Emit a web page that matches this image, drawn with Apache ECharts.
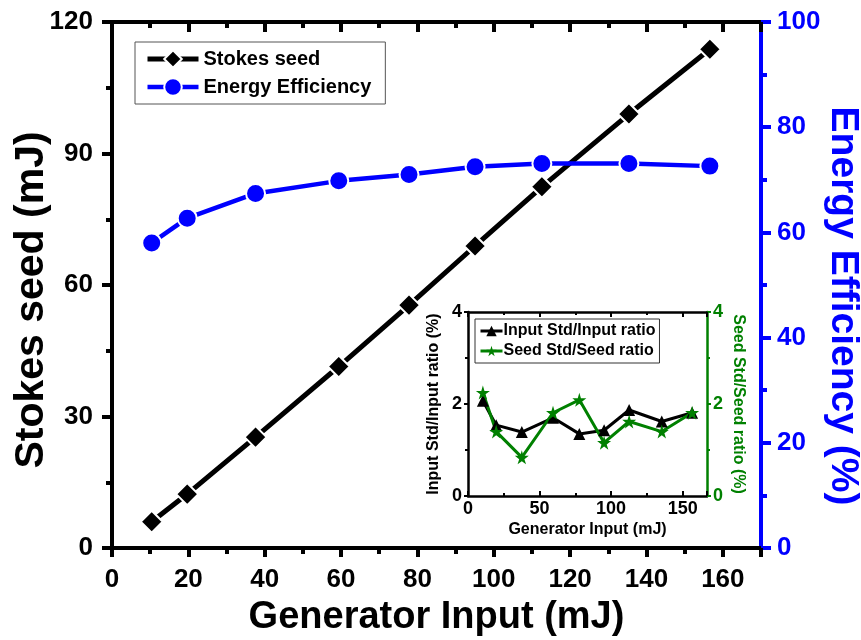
<!DOCTYPE html>
<html>
<head>
<meta charset="utf-8">
<script src="https://cdn.jsdelivr.net/npm/echarts@6/dist/echarts.min.js"></script>
<style>html,body{margin:0;padding:0;background:#fff}#c{width:861px;height:640px}</style>
</head>
<body>
<div id="c"></div>
<script>
// ---- data ----
const generatorInput = [10.4, 19.7, 37.6, 59.4, 77.8, 95.1, 112.6, 135.4, 156.6];
const stokesSeed = [6.0, 12.3, 25.3, 41.4, 55.4, 68.9, 82.4, 99.0, 113.8];
const energyEfficiency = [58.0, 62.7, 67.4, 69.8, 71.0, 72.5, 73.1, 73.1, 72.6];
const inputStdRatio = [2.07, 1.54, 1.39, 1.70, 1.35, 1.43, 1.87, 1.62, 1.81];
const seedStdRatio = [2.25, 1.40, 0.84, 1.81, 2.09, 1.16, 1.62, 1.40, 1.81];
const mainXTicks = [0, 20, 40, 60, 80, 100, 120, 140, 160];
const insetXTicks = [0, 50, 100, 150];

const zip = (xs, ys) => xs.map((x, i) => [x, ys[i]]);
const FONT = '"Liberation Sans", Arial, sans-serif';
const BLUE = '#0000ff';
const GREEN = '#008000';
const STAR = 'path://M50,0 L61,35 L98,35 L68,57 L79,91 L50,70 L21,91 L32,57 L2,35 L39,35 Z';

const chart = echarts.init(document.getElementById('c'), null, {renderer: 'canvas'});
const lbl = (size, color, extra) => Object.assign({fontFamily: FONT, fontWeight: 'bold', fontSize: size, color: color}, extra || {});

chart.setOption({
  animation: false,
  backgroundColor: '#fff',
  grid: [
    {left: 112, right: 100, top: 22, bottom: 92, outerBoundsMode: 'none', containLabel: false},
    {left: 468, top: 312, width: 239, height: 184, outerBoundsMode: 'none', containLabel: false}
  ],
  legend: [
    {
      data: ['Stokes seed', 'Energy Efficiency'],
      orient: 'vertical', left: 135, top: 42,
      itemWidth: 51, itemHeight: 22, itemGap: 4,
      padding: [5, 14, 5, 10],
      borderColor: '#555', borderWidth: 1,
      lineStyle: {width: 'inherit'},
      textStyle: lbl(20, '#000', {lineHeight: 24})
    },
    {
      data: ['Input Std/Input ratio', 'Seed Std/Seed ratio'],
      orient: 'vertical', left: 475, top: 319,
      itemWidth: 22, itemHeight: 13, itemGap: 2,
      padding: [3, 4, 3, 4],
      borderColor: '#333', borderWidth: 1,
      lineStyle: {width: 'inherit'},
      textStyle: lbl(16, '#000', {lineHeight: 18, padding: [0, 0, 0, -4]})
    }
  ],
  xAxis: [
    {
      gridIndex: 0, type: 'value', min: 0, max: 170, interval: 20,
      name: 'Generator Input (mJ)', nameLocation: 'middle', nameGap: 51, nameMoveOverlap: false,
      nameTextStyle: lbl(38, '#000'),
      axisLine: {onZero: false, lineStyle: {color: '#000', width: 4}},
      axisTick: {show: true, length: 9, lineStyle: {color: '#000', width: 4}},
      minorTick: {show: true, splitNumber: 2, length: 6, lineStyle: {color: '#000', width: 4}},
      axisLabel: lbl(26, '#000', {margin: 19, formatter: v => mainXTicks.includes(v) ? String(v) : ''}),
      splitLine: {show: false}
    },
    {
      gridIndex: 0, type: 'value', min: 0, max: 170, interval: 20, position: 'top',
      axisLine: {onZero: false, lineStyle: {color: '#000', width: 4}},
      axisTick: {show: true, inside: true, length: 10, lineStyle: {color: '#000', width: 4}},
      minorTick: {show: true, splitNumber: 2, length: 6, lineStyle: {color: '#000', width: 4}},
      axisLabel: {show: false}, splitLine: {show: false}
    },
    {
      gridIndex: 1, type: 'value', min: 0, max: 167, interval: 50,
      name: 'Generator Input (mJ)', nameLocation: 'middle', nameGap: 26, nameMoveOverlap: false,
      nameTextStyle: lbl(16, '#000'),
      axisLine: {onZero: false, lineStyle: {color: '#000', width: 2.5}},
      axisTick: {show: true, inside: true, length: 5, lineStyle: {color: '#000', width: 2}},
      minorTick: {show: true, splitNumber: 2, length: 3, lineStyle: {color: '#000', width: 2}},
      axisLabel: lbl(18, '#000', {margin: 4, formatter: v => insetXTicks.includes(v) ? String(v) : ''}),
      splitLine: {show: false}
    },
    {
      gridIndex: 1, type: 'value', min: 0, max: 167, interval: 50, position: 'top',
      axisLine: {onZero: false, lineStyle: {color: '#000', width: 2.5}},
      axisTick: {show: true, inside: true, length: 5, lineStyle: {color: '#000', width: 2}},
      minorTick: {show: true, splitNumber: 2, length: 3, lineStyle: {color: '#000', width: 2}},
      axisLabel: {show: false}, splitLine: {show: false}
    }
  ],
  yAxis: [
    {
      gridIndex: 0, type: 'value', min: 0, max: 120, interval: 30,
      name: 'Stokes seed (mJ)', nameLocation: 'middle', nameGap: 60, nameMoveOverlap: false,
      nameTextStyle: lbl(41, '#000', {padding: [0, 30, 0, 0]}),
      axisLine: {show: true, onZero: false, lineStyle: {color: '#000', width: 4}},
      axisTick: {show: true, length: 10, lineStyle: {color: '#000', width: 4}},
      minorTick: {show: true, splitNumber: 2, length: 6, lineStyle: {color: '#000', width: 4}},
      axisLabel: lbl(26, '#000', {margin: 19}),
      splitLine: {show: false}
    },
    {
      gridIndex: 0, type: 'value', min: 0, max: 100, interval: 20, position: 'right',
      name: 'Energy Efficiency (%)', nameLocation: 'middle', nameGap: 62, nameRotate: -90, nameMoveOverlap: false,
      nameTextStyle: lbl(39, BLUE, {padding: [0, 0, 0, 42]}),
      axisLine: {show: true, onZero: false, lineStyle: {color: BLUE, width: 4}},
      axisTick: {show: true, length: 10, lineStyle: {color: BLUE, width: 4}},
      minorTick: {show: true, splitNumber: 2, length: 6, lineStyle: {color: BLUE, width: 4}},
      axisLabel: lbl(26, BLUE, {margin: 16}),
      splitLine: {show: false}
    },
    {
      gridIndex: 1, type: 'value', min: 0, max: 4, interval: 2,
      name: 'Input Std/Input ratio (%)', nameLocation: 'middle', nameGap: 26, nameMoveOverlap: false,
      nameTextStyle: lbl(16, '#000'),
      axisLine: {show: true, onZero: false, lineStyle: {color: '#000', width: 2.5}},
      axisTick: {show: true, length: 4, lineStyle: {color: '#000', width: 2}},
      minorTick: {show: true, splitNumber: 2, length: 3, lineStyle: {color: '#000', width: 2}},
      axisLabel: lbl(18, '#000', {margin: 6}),
      splitLine: {show: false}
    },
    {
      gridIndex: 1, type: 'value', min: 0, max: 4, interval: 2, position: 'right',
      name: 'Seed Std/Seed ratio (%)', nameLocation: 'middle', nameGap: 23, nameRotate: -90, nameMoveOverlap: false,
      nameTextStyle: lbl(16, GREEN),
      axisLine: {show: true, onZero: false, lineStyle: {color: GREEN, width: 2.5}},
      axisTick: {show: true, length: 4, lineStyle: {color: GREEN, width: 2}},
      minorTick: {show: true, splitNumber: 2, length: 3, lineStyle: {color: GREEN, width: 2}},
      axisLabel: lbl(18, GREEN, {margin: 6}),
      splitLine: {show: false}
    }
  ],
  series: [
    {
      name: 'Stokes seed', type: 'line', xAxisIndex: 0, yAxisIndex: 0,
      data: zip(generatorInput, stokesSeed),
      symbol: 'diamond', symbolSize: 22,
      lineStyle: {color: '#000', width: 5},
      itemStyle: {color: '#000', borderColor: '#fff', borderWidth: 2}
    },
    {
      name: 'Energy Efficiency', type: 'line', xAxisIndex: 0, yAxisIndex: 1,
      data: zip(generatorInput, energyEfficiency),
      symbol: 'circle', symbolSize: 19,
      lineStyle: {color: BLUE, width: 4.5},
      itemStyle: {color: BLUE, borderColor: '#fff', borderWidth: 2}
    },
    {
      name: 'Input Std/Input ratio', type: 'line', xAxisIndex: 2, yAxisIndex: 2,
      data: zip(generatorInput, inputStdRatio),
      symbol: 'triangle', symbolSize: 12,
      lineStyle: {color: '#000', width: 3},
      itemStyle: {color: '#000'}
    },
    {
      name: 'Seed Std/Seed ratio', type: 'line', xAxisIndex: 2, yAxisIndex: 3,
      data: zip(generatorInput, seedStdRatio),
      symbol: STAR, symbolSize: 14,
      lineStyle: {color: GREEN, width: 3},
      itemStyle: {color: GREEN}
    }
  ]
});
</script>
</body>
</html>
